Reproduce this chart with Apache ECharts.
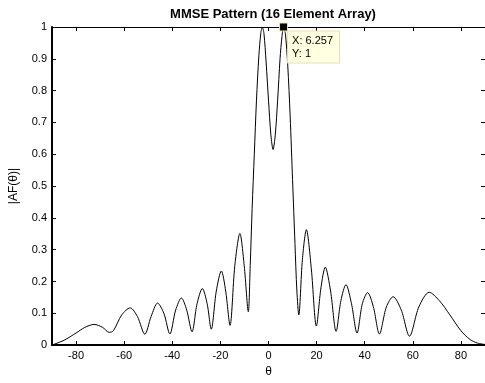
<!DOCTYPE html>
<html>
<head>
<meta charset="utf-8">
<script src="https://cdn.jsdelivr.net/npm/echarts@6/dist/echarts.min.js"></script>
<style>
  html, body { margin: 0; padding: 0; background: #fff; }
  #chart { width: 485px; height: 383px; }
</style>
</head>
<body>
<div id="chart"></div>
<script>
// angle (deg) and |AF|
const thetaValues = [
  -90, -89, -85, -80, -76.5, -72.5, -69, -66.2, -64.5, -61, -57.5, -54.5,
  -51.4, -48.8, -46.1, -43.5, -41, -38.6, -36.2, -34, -31.8, -29.7, -27.5, -25.5,
  -23.8, -21.7, -19.6, -17.8, -16, -14, -11.9, -10.1, -8.4, -7.6, -6.8, -5.9,
  -5, -4, -3.2, -2.6, -1.9, -1, 0, 1, 1.9, 2.8, 3.8, 4.8,
  5.6, 6.257, 7, 8, 9, 10, 11, 11.8, 12.6, 14.1, 15.75, 17.8,
  19.9, 21.8, 23.6, 25.8, 28.1, 30.1, 32.2, 34.5, 36.8, 39, 41.2, 43.6,
  46.1, 49, 51.8, 55.2, 58.6, 62.5, 66.8, 71, 75.4, 80, 83.7, 87, 90
]
const afValues = [
  0, 0.003, 0.015, 0.038, 0.055, 0.065, 0.056, 0.040, 0.045, 0.095, 0.117, 0.09,
  0.034, 0.09, 0.132, 0.10, 0.035, 0.11, 0.148, 0.11, 0.042, 0.13, 0.178, 0.13,
  0.05, 0.17, 0.233, 0.17, 0.062, 0.25, 0.351, 0.25, 0.105, 0.25, 0.43, 0.6,
  0.77, 0.91, 0.98, 1.0, 0.98, 0.89, 0.77, 0.66, 0.615, 0.66, 0.77, 0.9,
  0.97, 1.0, 0.98, 0.88, 0.72, 0.52, 0.32, 0.17, 0.095, 0.27, 0.363, 0.24,
  0.06, 0.18, 0.245, 0.17, 0.043, 0.14, 0.19, 0.13, 0.038, 0.13, 0.165, 0.12,
  0.035, 0.12, 0.152, 0.11, 0.028, 0.12, 0.166, 0.14, 0.095, 0.045, 0.018, 0.006, 0.002
]
const xTicks = [-80, -60, -40, -20, 0, 20, 40, 60, 80]
const tipPoint = [6.257, 1]

const font = 'Liberation Sans, Arial, Helvetica, sans-serif'
const chart = echarts.init(document.getElementById('chart'))

let option = {
  backgroundColor: '#fff',
  animation: false,
  title: {
    text: 'MMSE Pattern (16 Element Array)',
    left: 268,
    textAlign: 'center',
    top: 3,
    textStyle: { fontFamily: font, fontSize: 13, fontWeight: 'bold', color: '#000' }
  },
  grid: { left: 51, right: 0, top: 27, bottom: 34 },
  xAxis: [{
    type: 'value',
    min: -90,
    max: 90,
    name: 'θ',
    nameLocation: 'middle',
    nameGap: 20,
    nameTextStyle: { fontFamily: font, fontSize: 12, color: '#000' },
    axisLine: { show: true, onZero: false, lineStyle: { color: '#000', width: 2 } },
    axisTick: { show: true, inside: true, length: 4, customValues: xTicks, lineStyle: { color: '#000' } },
    axisLabel: { customValues: xTicks, margin: 5, fontFamily: font, fontSize: 11, color: '#000' },
    splitLine: { show: false }
  }, {
    type: 'value',
    position: 'top',
    min: -90,
    max: 90,
    axisLine: { show: true, onZero: false, lineStyle: { color: '#000', width: 1 } },
    axisTick: { show: true, inside: true, length: 4, customValues: xTicks, lineStyle: { color: '#000' } },
    axisLabel: { show: false },
    splitLine: { show: false }
  }],
  yAxis: [{
    type: 'value',
    min: 0,
    max: 1,
    interval: 0.1,
    name: '|AF(θ)|',
    nameLocation: 'middle',
    nameGap: 32,
    nameTextStyle: { fontFamily: font, fontSize: 12, color: '#000' },
    axisLine: { show: true, onZero: false, lineStyle: { color: '#000', width: 2 } },
    axisTick: { show: true, inside: true, length: 4, lineStyle: { color: '#000' } },
    axisLabel: { margin: 5, fontFamily: font, fontSize: 11, color: '#000' },
    splitLine: { show: false }
  }, {
    type: 'value',
    position: 'right',
    min: 0,
    max: 1,
    interval: 0.1,
    axisLine: { show: true, onZero: false, lineStyle: { color: '#000', width: 1 } },
    axisTick: { show: true, inside: true, length: 4, lineStyle: { color: '#000' } },
    axisLabel: { show: false },
    splitLine: { show: false }
  }],
  series: [{
    type: 'line',
    xAxisIndex: 0,
    yAxisIndex: 0,
    data: thetaValues.map((t, i) => [t, afValues[i]]),
    showSymbol: false,
    smooth: 0.3,
    lineStyle: { color: '#000', width: 1 },
    markPoint: {
      symbol: 'rect',
      symbolSize: 8,
      data: [{ coord: tipPoint }],
      itemStyle: { color: '#000', borderColor: '#f0e8a0', borderWidth: 1 },
      label: {
        show: true,
        position: [9, 9],
        align: 'left',
        verticalAlign: 'top',
        formatter: 'X: ' + tipPoint[0] + '\nY: ' + tipPoint[1],
        fontFamily: font,
        fontSize: 11,
        lineHeight: 13,
        color: '#000',
        backgroundColor: '#ffffe1',
        borderColor: '#e6e0b8',
        borderWidth: 1,
        padding: [3, 6, 2, 4]
      }
    }
  }]
}

chart.setOption(option)
</script>
</body>
</html>
